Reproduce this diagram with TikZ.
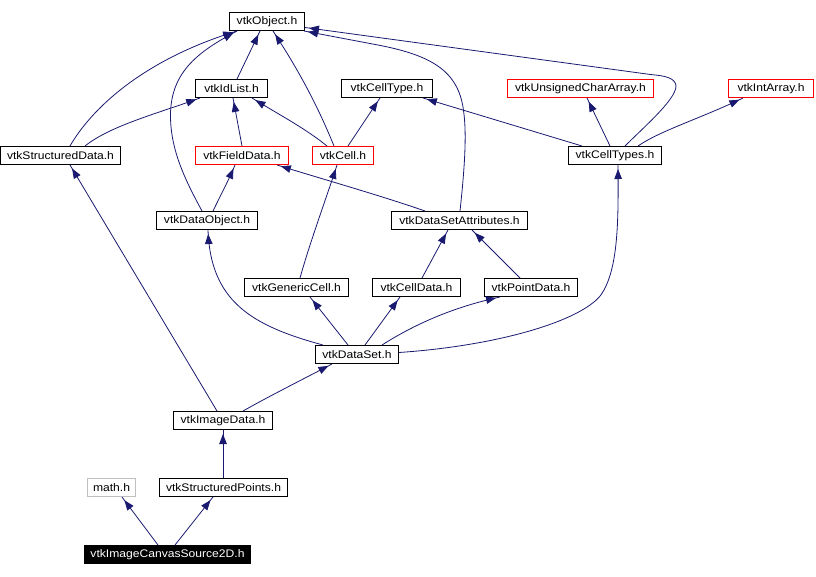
\documentclass[tikz,border=0pt]{standalone}
\usepackage{fontspec}
\newfontfamily\lbl[FakeStretch=1.1]{Liberation Sans}
\usetikzlibrary{arrows.meta,decorations.markings}
\definecolor{edgecol}{HTML}{191970}
\definecolor{graycol}{HTML}{BFBFBF}
\definecolor{redcol}{HTML}{FF0000}
\tikzset{
  box/.style={draw=black, line width=1pt, minimum height=18pt, inner sep=0pt, anchor=center, font=\lbl\fontsize{11}{12}\selectfont},
  redbox/.style={box, draw=redcol},
  graybox/.style={box, draw=graycol},
  rootbox/.style={box, fill=black, text=white},
  edge/.style={draw=edgecol, line width=0.8pt,
    postaction={decorate, decoration={markings,
      mark=at position -4pt with {\arrow[edgecol]{Triangle[length=10pt,width=7.5pt]}}}}}
}
\begin{document}
\begin{tikzpicture}[x=1pt,y=1pt]
\useasboundingbox (0,0) rectangle (816,-576);
\begin{scope}[shift={(0.5,-0.5)}]
% nodes
\node[box, minimum width=75pt] (obj) at (266.5,-21) {vtkObject.h};
\node[box, minimum width=72pt] (idl) at (231,-88) {vtkIdList.h};
\node[box, minimum width=91pt] (ctype) at (386.5,-88) {vtkCellType.h};
\node[redbox, minimum width=146pt] (uca) at (580,-88) {vtkUnsignedCharArray.h};
\node[redbox, minimum width=85pt] (ia) at (770.5,-88) {vtkIntArray.h};
\node[box, minimum width=120pt] (sd) at (60,-155) {vtkStructuredData.h};
\node[redbox, minimum width=93pt] (fd) at (241.5,-155) {vtkFieldData.h};
\node[redbox, minimum width=61pt] (cell) at (342.5,-155) {vtkCell.h};
\node[box, minimum width=93pt] (cts) at (614.5,-155) {vtkCellTypes.h};
\node[box, minimum width=101pt] (dobj) at (206.5,-220) {vtkDataObject.h};
\node[box, minimum width=136pt] (dsa) at (459,-220) {vtkDataSetAttributes.h};
\node[box, minimum width=104pt] (gc) at (296,-287) {vtkGenericCell.h};
\node[box, minimum width=88pt] (cd) at (416,-287) {vtkCellData.h};
\node[box, minimum width=93pt] (pd) at (530.5,-287) {vtkPointData.h};
\node[box, minimum width=83pt] (ds) at (356.5,-354) {vtkDataSet.h};
\node[box, minimum width=99pt] (img) at (222.5,-420) {vtkImageData.h};
\node[graybox, minimum width=48pt] (math) at (111,-487) {math.h};
\node[box, minimum width=128pt] (sp) at (223,-487) {vtkStructuredPoints.h};
\node[rootbox, minimum width=166pt] (ics) at (167,-554) {vtkImageCanvasSource2D.h};
% edges to vtkObject
\draw[edge] ([xshift=70pt]sd.north west) .. controls (90,-110) and (140,-60) .. ([xshift=8pt]obj.south west);
\draw[edge] ([xshift=46pt]dobj.north west) .. controls (185,-180) and (170,-150) .. (170,-115) .. controls (170,-70) and (200,-50) .. ([xshift=8pt]obj.south west);
\draw[edge] ([xshift=42pt]idl.north west) -- ([xshift=31pt]obj.south west);
\draw[edge] ([xshift=22pt]cell.north west) .. controls (315,-100) and (295,-65) .. ([xshift=44pt]obj.south west);
\draw[edge] ([xshift=69pt]dsa.north west) .. controls (465,-160) and (466,-130) .. (463,-110) .. controls (458,-70) and (430,-55) .. (380,-45) -- ([xshift=-1pt]obj.south east);
\draw[edge] ([xshift=57pt]cts.north west) .. controls (645,-125) and (680,-95) .. (675,-83) .. controls (672,-76) and (660,-75) .. (650,-74) -- ([yshift=-6pt]obj.east);
% edges to vtkIdList
\draw[edge] ([xshift=85pt]sd.north west) .. controls (110,-125) and (160,-112) .. ([xshift=5pt]idl.south west);
\draw[edge] ([xshift=47pt]fd.north west) -- ([xshift=38pt]idl.south west);
\draw[edge] ([xshift=15pt]cell.north west) .. controls (305,-128) and (280,-115) .. ([xshift=57pt]idl.south west);
% edges to vtkCellType, arrays
\draw[edge] ([xshift=36pt]cell.north west) -- ([xshift=39pt]ctype.south west);
\draw[edge] ([xshift=14pt]cts.north west) -- ([xshift=82pt]ctype.south west);
\draw[edge] ([xshift=42pt]cts.north west) -- ([xshift=80pt]uca.south west);
\draw[edge] ([xshift=70pt]cts.north west) .. controls (660,-130) and (700,-118) .. ([xshift=15pt]ia.south west);
% edges to vtkFieldData, vtkCell
\draw[edge] ([xshift=57pt]dobj.north west) .. controls (220,-195) and (228,-180) .. ([xshift=40pt]fd.south west);
\draw[edge] ([xshift=34pt]dsa.north west) .. controls (380,-195) and (320,-178) .. ([xshift=82pt]fd.south west);
\draw[edge] ([xshift=56pt]gc.north west) .. controls (310,-240) and (325,-200) .. ([xshift=25pt]cell.south west);
% edges to vtkDataSetAttributes
\draw[edge] ([xshift=50pt]cd.north west) -- ([xshift=57pt]dsa.south west);
\draw[edge] ([xshift=36pt]pd.north west) -- ([xshift=81pt]dsa.south west);
% edges from vtkDataSet
\draw[edge] ([xshift=8pt]ds.north west) .. controls (250,-325) and (210,-300) .. ([xshift=52pt]dobj.south west);
\draw[edge] ([xshift=33pt]ds.north west) -- ([xshift=66pt]gc.south west);
\draw[edge] ([xshift=50pt]ds.north west) -- ([xshift=28pt]cd.south west);
\draw[edge] ([xshift=67pt]ds.north west) .. controls (420,-320) and (460,-305) .. ([xshift=16pt]pd.south west);
\draw[edge] ([yshift=2pt]ds.east) .. controls (500,-345) and (580,-320) .. (600,-295) .. controls (618,-270) and (618,-220) .. ([xshift=50pt]cts.south west);
% lower part
\draw[edge] ([xshift=44pt]img.north west) -- ([xshift=70pt]sd.south west);
\draw[edge] ([xshift=70pt]img.north west) .. controls (270,-395) and (300,-380) .. ([xshift=17pt]ds.south west);
\draw[edge] ([xshift=64pt]sp.north west) -- ([xshift=50pt]img.south west);
\draw[edge] ([xshift=74pt]ics.north west) -- ([xshift=35pt]math.south west);
\draw[edge] ([xshift=91pt]ics.north west) -- ([xshift=54pt]sp.south west);
\end{scope}
\end{tikzpicture}
\end{document}
